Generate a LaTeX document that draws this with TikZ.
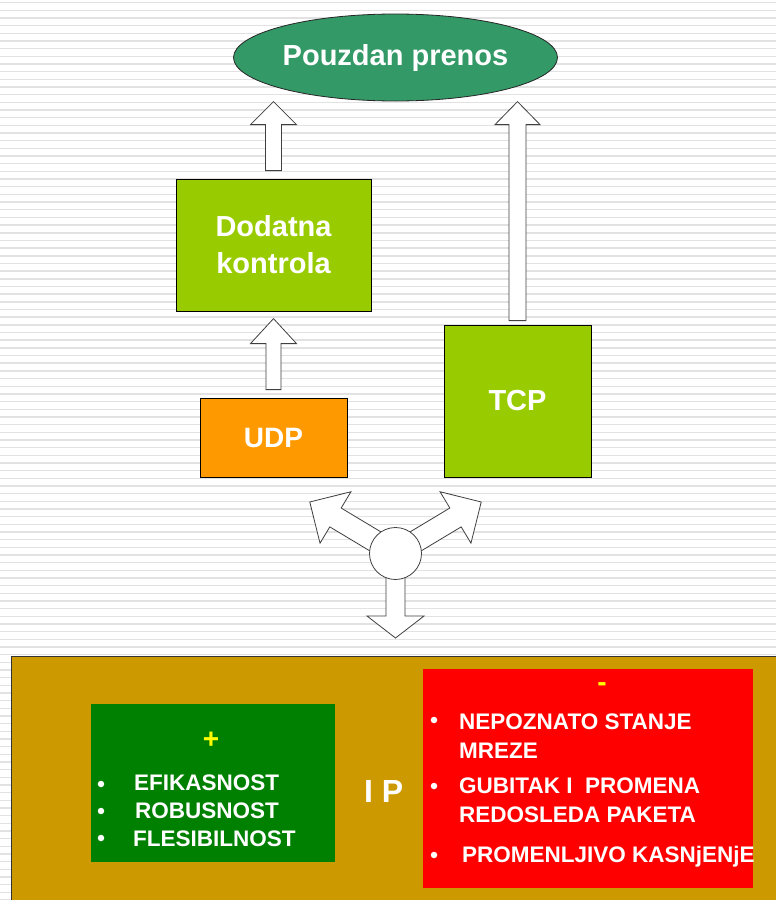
\documentclass[tikz,border=0pt]{standalone}
\usepackage{fontspec}
\setmainfont{Liberation Sans}
\usetikzlibrary{shapes.geometric,calc}

\definecolor{goalgreen}{HTML}{339966}
\definecolor{limegreen}{HTML}{99CC00}
\definecolor{udporange}{HTML}{FF9900}
\definecolor{ipgold}{HTML}{CC9900}
\definecolor{plusgreen}{HTML}{008000}
\definecolor{minusred}{HTML}{FF0000}
\definecolor{signyellow}{HTML}{FFFF00}
\definecolor{stripegray}{HTML}{E2E2E2}

% block arrow: #1 start, #2 direction angle, #3 length,
% #4 shaft half width, #5 head half width, #6 head length
\newcommand{\blockarrow}[6]{%
  \draw[blockarrow, shift={#1}, rotate=#2]
    (0,-#4) -- ({#3-#6},-#4) -- ({#3-#6},-#5) -- (#3,0)
    -- ({#3-#6},#5) -- ({#3-#6},#4) -- (0,#4) -- cycle;}

\tikzset{
  stripe/.style={draw=stripegray, line width=1.4pt},
  blockarrow/.style={draw=black!75, fill=white, line width=0.8pt, line join=miter},
  box/.style={rectangle, draw=black, line width=0.8pt, inner sep=0pt,
    text=white, font=\bfseries\fontsize{29}{37}\selectfont, align=center},
  listtext/.style={anchor=base west, inner sep=0pt, text=white,
    font=\bfseries\fontsize{22.5}{27}\selectfont},
  bullet/.style={circle, fill=white, inner sep=0pt, minimum size=6.5pt},
  sign/.style={inner sep=0pt, text=signyellow, font=\bfseries\fontsize{28}{32}\selectfont}
}

\begin{document}
\begin{tikzpicture}[x=1pt, y=-1pt]
  \useasboundingbox (0,0) rectangle (776,900);

  % striped background
  \fill[white] (0,0) rectangle (776,900);
  \foreach \i in {0,...,117}
    \draw[stripe] (0,{2.7+7.67*\i}) -- (776,{2.7+7.67*\i});

  % goal
  \node[ellipse, draw=black!85, fill=goalgreen, line width=0.8pt, inner sep=0pt,
        minimum width=324pt, minimum height=87pt, text=white,
        font=\bfseries\fontsize{29}{35}\selectfont] (goal) at (395.5,57.5) {Pouzdan prenos};

  % protocol boxes
  \node[box, fill=limegreen, minimum width=195pt, minimum height=132pt]
    (ctrl) at (273.5,245) {Dodatna\\kontrola};
  \node[box, fill=udporange, minimum width=147pt, minimum height=79pt,
        font=\bfseries\fontsize{28}{34}\selectfont]
    (udp) at (273.5,437.5) {UDP};
  \node[box, fill=limegreen, minimum width=147pt, minimum height=152pt]
    (tcp) at (517.5,401) {TCP};

  % upward block arrows
  \blockarrow{([yshift=8pt]ctrl.north)}{90}{69}{8}{23}{23}
  \blockarrow{([yshift=8pt]udp.north)}{90}{71}{7.5}{23}{25}
  \blockarrow{([yshift=4pt]tcp.north)}{90}{219}{8.5}{22.5}{23}

  % three-way splitter
  \coordinate (hubc) at (395.5,553.5);
  \blockarrow{(hubc)}{149}{100}{11}{30}{30}
  \blockarrow{(hubc)}{31}{100}{11}{30}{30}
  \blockarrow{(hubc)}{-90}{84.5}{9.5}{28.5}{22}
  \node[circle, draw=black!75, fill=white, line width=0.8pt, minimum size=52pt,
        inner sep=0pt] (hub) at (hubc) {};

  % IP layer
  \path[fill=ipgold, draw=black!80, line width=1pt] (11,656) rectangle (800,920);
  \node[anchor=base west, inner sep=0pt, text=white,
        font=\bfseries\fontsize{32}{38}\selectfont] (ip) at (364,802) {I P};

  % advantages
  \fill[plusgreen] (91,704) rectangle (335,862);
  \node[sign] (plus) at (211,740) {+};
  \node[bullet] (b1) at (101,784) {};
  \node[bullet] (b2) at (101,811) {};
  \node[bullet] (b3) at (101,838) {};
  \node[listtext] (p1) at (134,790) {EFIKASNOST};
  \node[listtext] (p2) at (135,818) {ROBUSNOST};
  \node[listtext] (p3) at (133,846) {FLESIBILNOST};

  % drawbacks
  \fill[minusred] (423,669) rectangle (753,888);
  \node[sign] (minus) at (602,687) {-};
  \node[bullet] (c1) at (434,720) {};
  \node[bullet] (c2) at (434,786) {};
  \node[bullet] (c3) at (434,855) {};
  \node[listtext] (m1) at (459,729) {NEPOZNATO STANJE};
  \node[listtext] (m2) at (459,758) {MREZE};
  \node[listtext] (m3) at (459,793) {GUBITAK I~ PROMENA};
  \node[listtext] (m4) at (459,822) {REDOSLEDA PAKETA};
  \node[listtext] (m5) at (462,862) {PROMENLJIVO KASNjENjE};
\end{tikzpicture}
\end{document}
